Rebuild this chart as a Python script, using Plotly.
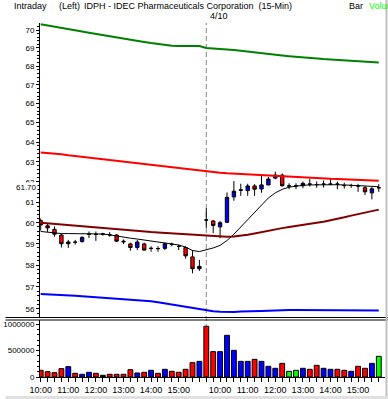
import math
import plotly.graph_objects as go

# ---------------- data ----------------
bar_index = list(range(50))

opens = [60.10, 59.85, 59.68, 59.41, 59.00, 59.07, 59.10, 59.45, 59.44, 59.47,
         59.42, 59.41, 59.12, 58.99, 58.82, 58.99, 58.78, 58.77, 58.78, 58.97,
         58.87, 58.82, 58.38, 57.83,
         60.13, 60.08, 59.80, 60.02, 61.25, 61.60, 61.56, 61.79, 61.64, 61.84,
         62.18, 62.33, 61.79, 61.80, 61.80, 61.88, 61.86, 61.88, 61.88, 61.88,
         61.81, 61.81, 61.79, 61.70, 61.45, 61.70]
highs = [60.20, 59.98, 59.82, 59.48, 59.18, 59.18, 59.35, 59.58, 59.58, 59.52,
         59.55, 59.46, 59.20, 59.05, 59.18, 59.05, 58.88, 58.88, 59.05, 59.05,
         58.95, 58.88, 58.70, 58.24,
         60.70, 60.13, 60.08, 61.47, 62.03, 61.90, 61.90, 61.88, 62.29, 62.24,
         62.50, 62.41, 61.92, 61.92, 62.01, 62.15, 62.01, 62.06, 62.17, 62.01,
         61.95, 61.90, 61.90, 61.79, 61.75, 61.88]
lows = [59.62, 59.55, 59.33, 58.82, 58.80, 58.96, 59.05, 59.27, 59.13, 59.38,
        59.33, 59.08, 58.98, 58.67, 58.70, 58.67, 58.62, 58.62, 58.70, 58.88,
        58.70, 58.30, 57.62, 57.73,
        59.75, 59.50, 59.26, 59.98, 61.06, 61.30, 61.30, 61.30, 61.45, 61.82,
        62.12, 61.76, 61.63, 61.63, 61.68, 61.76, 61.70, 61.71, 61.83, 61.63,
        61.66, 61.70, 61.50, 61.34, 61.13, 61.50]
closes = [59.89, 59.75, 59.45, 59.00, 59.08, 59.07, 59.30, 59.45, 59.44, 59.44,
          59.42, 59.12, 59.09, 58.82, 59.08, 58.70, 58.78, 58.77, 59.00, 58.97,
          58.87, 58.43, 57.83, 57.94,
          60.13, 59.87, 60.00, 61.23, 61.53, 61.58, 61.79, 61.63, 61.84, 62.13,
          62.33, 61.80, 61.79, 61.80, 61.92, 61.88, 61.86, 61.88, 61.88, 61.88,
          61.81, 61.81, 61.79, 61.50, 61.65, 61.70]

volumes = [127000, 101000, 82000, 158000, 196000, 70000, 51000, 89000, 70000, 32000,
           51000, 51000, 51000, 139000, 76000, 89000, 127000, 70000, 146000, 108000,
           89000, 146000, 272000, 297000,
           962000, 481000, 481000, 791000, 506000, 297000, 297000, 335000, 297000, 203000,
           165000, 259000, 108000, 127000, 165000, 146000, 222000, 165000, 146000, 146000,
           127000, 108000, 203000, 165000, 259000, 392000]
volume_dir = ["dn", "dn", "dn", "dn", "up", "dn", "up", "up", "dn", "flat",
              "dn", "dn", "dn", "dn", "up", "dn", "up", "dn", "up", "dn",
              "dn", "dn", "dn", "up",
              "dn", "dn", "up", "up", "up", "up", "up", "dn", "up", "up",
              "up", "dn", "same", "same", "up", "dn", "dn", "up", "up", "dn",
              "dn", "up", "dn", "dn", "up", "same"]

moving_avg = [59.58, 59.54, 59.50, 59.48, 59.48, 59.48, 59.48, 59.48, 59.47, 59.46,
              59.42, 59.36, 59.30, 59.26, 59.22, 59.17, 59.13, 59.09, 59.05, 59.00,
              58.94, 58.84, 58.68, 58.63,
              58.70, 58.80, 58.92, 59.15, 59.45, 59.80, 60.10, 60.50, 60.85, 61.20,
              61.45, 61.62, 61.73, 61.78, 61.82, 61.84, 61.85, 61.86, 61.86, 61.85,
              61.84, 61.83, 61.82, 61.80, 61.77, 61.75]
band_green = [70.32, 70.26, 70.20, 70.13, 70.06, 69.99, 69.92, 69.85, 69.78, 69.71,
              69.64, 69.58, 69.51, 69.45, 69.39, 69.33, 69.27, 69.21, 69.16, 69.12,
              69.11, 69.11, 69.11, 69.11,
              69.00, 68.98, 68.96, 68.93, 68.89, 68.85, 68.80, 68.76, 68.71, 68.67,
              68.63, 68.59, 68.55, 68.51, 68.48, 68.45, 68.42, 68.39, 68.37, 68.35,
              68.32, 68.30, 68.28, 68.26, 68.24, 68.21]
band_red = [63.47, 63.45, 63.42, 63.38, 63.33, 63.29, 63.25, 63.21, 63.17, 63.13,
            63.09, 63.05, 63.01, 62.97, 62.93, 62.89, 62.85, 62.81, 62.76, 62.72,
            62.67, 62.62, 62.58, 62.54,
            62.50, 62.47, 62.45, 62.42, 62.40, 62.38, 62.37, 62.35, 62.34, 62.33,
            62.31, 62.29, 62.27, 62.24, 62.22, 62.21, 62.18, 62.16, 62.15, 62.14,
            62.12, 62.11, 62.10, 62.09, 62.06, 62.05]
band_maroon = [60.00, 59.97, 59.94, 59.91, 59.88, 59.85, 59.82, 59.79, 59.76, 59.73,
               59.70, 59.67, 59.64, 59.62, 59.59, 59.57, 59.55, 59.53, 59.51, 59.49,
               59.47, 59.45, 59.43, 59.41,
               59.38, 59.36, 59.34, 59.33, 59.34, 59.37, 59.42, 59.48, 59.55, 59.62,
               59.68, 59.74, 59.79, 59.85, 59.90, 59.95, 60.00, 60.05, 60.11, 60.18,
               60.26, 60.34, 60.41, 60.48, 60.56, 60.63]
band_blue = [56.67, 56.66, 56.64, 56.62, 56.60, 56.59, 56.57, 56.55, 56.53, 56.52,
             56.50, 56.48, 56.46, 56.44, 56.42, 56.39, 56.35, 56.30, 56.25, 56.20,
             56.14, 56.08, 56.02, 55.97,
             55.93, 55.90, 55.87, 55.86, 55.86, 55.88, 55.90, 55.90, 55.91, 55.92,
             55.94, 55.95, 55.95, 55.95, 55.95, 55.95, 55.95, 55.95, 55.95, 55.95,
             55.94, 55.93, 55.93, 55.93, 55.93, 55.93]

hour_tick_index = [0, 4, 8, 12, 16, 20, 26, 30, 34, 38, 42, 46]
hour_tick_text = ["10:00", "11:00", "12:00", "13:00", "14:00", "15:00",
                  "10:00", "11:00", "12:00", "13:00", "14:00", "15:00"]
price_ticks = [56, 57, 58, 59, 60, 61, 62, 63, 64, 65, 66, 67, 68, 69, 70]
volume_ticks = [0, 500000, 1000000]
day_break_index = 24
day_break_label = "4/10"
last_price = 61.70

# ---------------- layout geometry ----------------
W, H = 388, 399
ML, MR, MT, MB = 35, 3, 23, 22
PW = W - ML - MR
PH = H - MT - MB


def py(pix):  # pixel row -> paper y
    return (H - MB - pix) / PH


def px(pix):  # pixel col -> paper x
    return (pix - ML) / PW


main_top_px, main_bot_px = 23, 317
vol_top_px, vol_bot_px = 320, 377

FONT = "Liberation Sans, Arial, sans-serif"
vol_colors = {"dn": "#ff0000", "up": "#0000ff", "flat": "#000000", "same": "#00ff00"}

fig = go.Figure()
for series, col, wd in [(band_green, "#008000", 2), (band_red, "#ff0000", 2),
                        (band_maroon, "#800000", 2), (band_blue, "#0000ff", 2),
                        (moving_avg, "#000000", 1)]:
    fig.add_trace(go.Scatter(x=bar_index, y=series, mode="lines",
                             line=dict(color=col, width=wd), yaxis="y",
                             hoverinfo="skip"))

fig.add_trace(go.Candlestick(
    x=bar_index, open=opens, high=highs, low=lows, close=closes,
    increasing=dict(line=dict(color="black", width=1), fillcolor="#0000ff"),
    decreasing=dict(line=dict(color="black", width=1), fillcolor="#ff0000"),
    whiskerwidth=0, yaxis="y"))

fig.add_trace(go.Bar(
    x=bar_index, y=volumes, width=0.7, yaxis="y2",
    marker=dict(color=[vol_colors[d] for d in volume_dir],
                line=dict(color="black", width=1))))

minor_price = [round(55.6 + 0.2 * k, 2) for k in range(75)]

fig.update_layout(
    width=W, height=H,
    margin=dict(l=ML, r=MR, t=MT, b=MB, pad=0),
    paper_bgcolor="white", plot_bgcolor="white",
    showlegend=False, boxgap=0.3,
    font=dict(family=FONT, size=8, color="black"),
    xaxis=dict(range=[-0.1, -0.1 + PW / 7.0], anchor="y2",
               tickmode="array", tickvals=hour_tick_index, ticktext=hour_tick_text,
               tickangle=0, ticks="outside", ticklen=4, tickcolor="black",
               tickfont=dict(size=9),
               minor=dict(tickvals=bar_index, ticks="outside", ticklen=4, tickcolor="black"),
               showgrid=False, zeroline=False, showline=True, linecolor="black",
               rangeslider=dict(visible=False)),
    yaxis=dict(type="log",
               domain=[py(main_bot_px), py(main_top_px)],
               range=[math.log10(70) - (main_bot_px - 30) / 1250 / math.log(10),
                      math.log10(70) + (30 - main_top_px) / 1250 / math.log(10)],
               tickmode="array", tickvals=price_ticks,
               ticktext=[str(v) for v in price_ticks],
               ticks="outside", ticklen=3, tickcolor="black",
               minor=dict(tickvals=minor_price, ticks="outside", ticklen=2, tickcolor="black"),
               showgrid=False, zeroline=False, showline=True, linecolor="black"),
    yaxis2=dict(domain=[0, py(vol_top_px)],
                range=[0, 1000000 * (vol_bot_px - vol_top_px) / 52.7],
                tickmode="array", tickvals=volume_ticks,
                ticktext=[str(v) for v in volume_ticks],
                ticks="outside", ticklen=3, tickcolor="black",
                minor=dict(tickvals=list(range(0, 1100000, 100000)), ticks="outside",
                           ticklen=2, tickcolor="black"),
                showgrid=False, zeroline=False, showline=True, linecolor="black"),
)

shapes = [
    dict(type="line", xref="x", yref="paper", x0=day_break_index, x1=day_break_index,
         y0=0, y1=1, line=dict(color="#808080", width=1, dash="5px,3px"), layer="below"),
    dict(type="line", xref="paper", yref="paper", x0=px(0), x1=px(W), y0=py(317.5), y1=py(317.5),
         line=dict(color="black", width=1)),
    dict(type="line", xref="paper", yref="paper", x0=px(0), x1=px(W), y0=py(320), y1=py(320),
         line=dict(color="black", width=1)),
    dict(type="line", xref="paper", yref="paper", x0=px(386.5), x1=px(386.5), y0=py(0), y1=py(H),
         line=dict(color="#c0c0c0", width=2)),
    dict(type="rect", xref="paper", yref="paper", x0=px(0), x1=px(W), y0=py(396), y1=py(H),
         line=dict(width=0), fillcolor="#e0e0e0"),
]
fig.update_layout(shapes=shapes)

ann = [
    dict(text="Intraday", x=px(7), xanchor="left"),
    dict(text="(Left)", x=px(52), xanchor="left"),
    dict(text="IDPH - IDEC Pharmaceuticals Corporation  (15-Min)", x=px(78), xanchor="left"),
    dict(text="Bar", x=px(346), xanchor="left"),
    dict(text="Volume", x=px(367), xanchor="left", font=dict(color="#00ff00")),
]
annotations = []
for a in ann:
    d = dict(xref="paper", yref="paper", y=py(6.5), yanchor="middle", showarrow=False,
             font=dict(family=FONT, size=9, color="black"))
    d.update({k: v for k, v in a.items() if k != "font"})
    if "font" in a:
        d["font"] = dict(family=FONT, size=9, color=a["font"]["color"])
    annotations.append(d)
annotations.append(dict(text=day_break_label, xref="x", x=day_break_index + 0.2, xanchor="left",
                        yref="paper", y=py(16.5), yanchor="middle", showarrow=False,
                        font=dict(family=FONT, size=9, color="black")))
annotations.append(dict(text="%.2f" % last_price, xref="paper", x=px(32.5), xanchor="right",
                        yref="y", y=math.log10(last_price), yanchor="middle", showarrow=False,
                        bgcolor="white", borderpad=0,
                        font=dict(family=FONT, size=8, color="black")))
fig.update_layout(annotations=annotations)

fig.write_html("out.html")
